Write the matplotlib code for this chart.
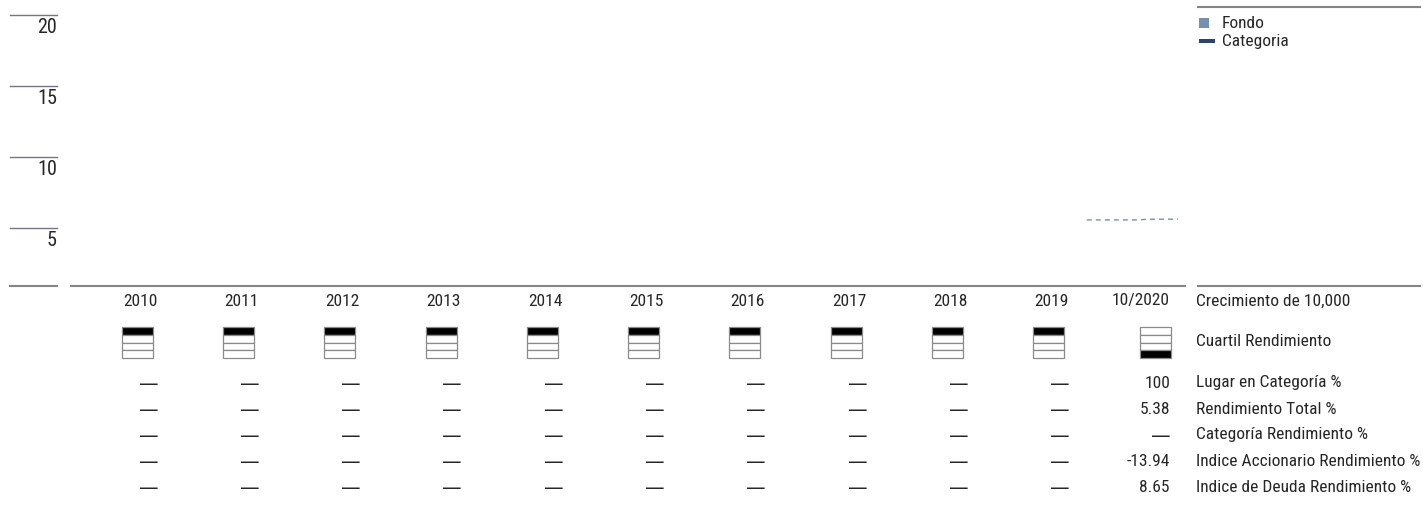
import matplotlib
matplotlib.use("Agg")
import matplotlib.pyplot as plt
from matplotlib.patches import Rectangle
import numpy as np
import warnings
warnings.filterwarnings("ignore")

plt.rcParams['font.family'] = ['Roboto Condensed', 'Archivo Narrow', 'DejaVu Sans']

# ---------------- data ----------------
years = ["2010", "2011", "2012", "2013", "2014", "2015", "2016", "2017", "2018", "2019", "10/2020"]
y_ticks = [5, 10, 15, 20]
fondo_2020 = [5.55, 5.55, 5.55, 5.55, 5.55, 5.55, 5.60, 5.60, 5.60, 5.60]
quartiles = [1, 1, 1, 1, 1, 1, 1, 1, 1, 1, 4]
row_labels = ["Lugar en Categoría %", "Rendimiento Total %", "Categoría Rendimiento %",
              "Indice Accionario Rendimiento %", "Indice de Deuda Rendimiento %"]
row_values = [
    ["—"] * 10 + ["100"],
    ["—"] * 10 + ["5.38"],
    ["—"] * 10 + ["—"],
    ["—"] * 10 + ["-13.94"],
    ["—"] * 10 + ["8.65"],
]
legend_labels = ["Fondo", "Categoria"]

# ---------------- layout ----------------
W, H = 1423, 525
fig = plt.figure(figsize=(W / 100, H / 100), dpi=100)
TXT = '#262626'
FONDO_C = '#7690b0'
CAT_C = '#2b4478'
GRID_C = '#74748a'
BASE_C = '#858585'

x0, x1 = 71, 1185
ytop, ybase = 0, 286
ax = fig.add_axes([x0 / W, 1 - ybase / H, (x1 - x0) / W, (ybase - ytop) / H])
ax.set_xlim(0, 11)
px_per_unit = 212.4 / 15
ax.set_ylim(20 - (ybase - 15.3) / px_per_unit, 20 + 15.3 / px_per_unit)
ax.axis('off')

# main line (Fondo), in last column
n = len(fondo_2020)
xm = 10 + (np.arange(n) + 0.3) / 10
ax.plot(xm, fondo_2020, color=FONDO_C, lw=1.0, dashes=(3.6, 2.9))

# left ticks lines and labels
ytr = ax.get_yaxis_transform()
lx0 = (10 - x0) / (x1 - x0)
lx1 = (57 - x0) / (x1 - x0)
for v in y_ticks:
    ax.plot([lx0, lx1], [v, v], transform=ytr, color=GRID_C, lw=1.0, clip_on=False)
    ax.annotate(str(v), xy=(lx1, v), xycoords=ytr, xytext=(0, -3), textcoords='offset pixels',
                ha='right', va='top', fontsize=14.5, color=TXT, annotation_clip=False)

# ---------------- overlay (fig px) ----------------
ov = fig.add_axes([0, 0, 1, 1])
ov.set_xlim(0, W)
ov.set_ylim(H, 0)
ov.axis('off')
# baselines
ov.plot([10, 57], [285.5, 285.5], color=BASE_C, lw=1.5)
ov.plot([x0, x1], [285.5, 285.5], color=BASE_C, lw=1.5)
ov.plot([1198, 1420], [285.5, 285.5], color=BASE_C, lw=1.5)
ov.plot([1198, 1420], [7, 7], color=BASE_C, lw=1.5)

# legend
ov.add_patch(Rectangle((1199, 18), 10, 10, facecolor=FONDO_C, edgecolor='none'))
ov.add_patch(Rectangle((1199, 39), 16, 4, facecolor=CAT_C, edgecolor='none'))
ov.text(1222, 23.5, legend_labels[0], ha='left', va='center', fontsize=12.5, color=TXT)
ov.text(1222, 41.5, legend_labels[1], ha='left', va='center', fontsize=12.5, color=TXT)

# ---------------- table ----------------
col_w = (x1 - x0) / 11
def colx(i, off_px):
    return x0 + col_w * (i + 1) + off_px

FS = 12.5
for i, yl in enumerate(years):
    ov.text(colx(i, -15), 301, yl, ha='right', va='center', fontsize=FS, color=TXT)
ov.text(1196, 301, "Crecimiento de 10,000", ha='left', va='center', fontsize=FS, color=TXT)

# quartile boxes
bw, bh = 31, 31
for i, q in enumerate(quartiles):
    off = -19.5 if i < len(quartiles) - 1 else -14
    bx = colx(i, off) - bw
    by = 327
    ch = bh / 4
    for k in range(4):
        fc = 'black' if (k + 1) == q else 'white'
        ov.add_patch(Rectangle((bx, by + k * ch), bw, ch, facecolor=fc,
                               edgecolor='#8a8a8a', lw=0.9))
ov.text(1196, 342, "Cuartil Rendimiento", ha='left', va='center', fontsize=FS, color=TXT)

row_y = [383, 409, 435, 461, 487]
for r, (lab, vals) in enumerate(zip(row_labels, row_values)):
    for i, v in enumerate(vals):
        if v == "—":
            ov.text(colx(i, -14), row_y[r] + 1.5, v, ha='right', va='center', fontsize=14,
                    color=TXT, family=['DejaVu Sans'])
        else:
            ov.text(colx(i, -15), row_y[r], v, ha='right', va='center', fontsize=FS, color=TXT)
    ov.text(1196, row_y[r], lab, ha='left', va='center', fontsize=FS, color=TXT)

fig.savefig("out.png", dpi=100)
